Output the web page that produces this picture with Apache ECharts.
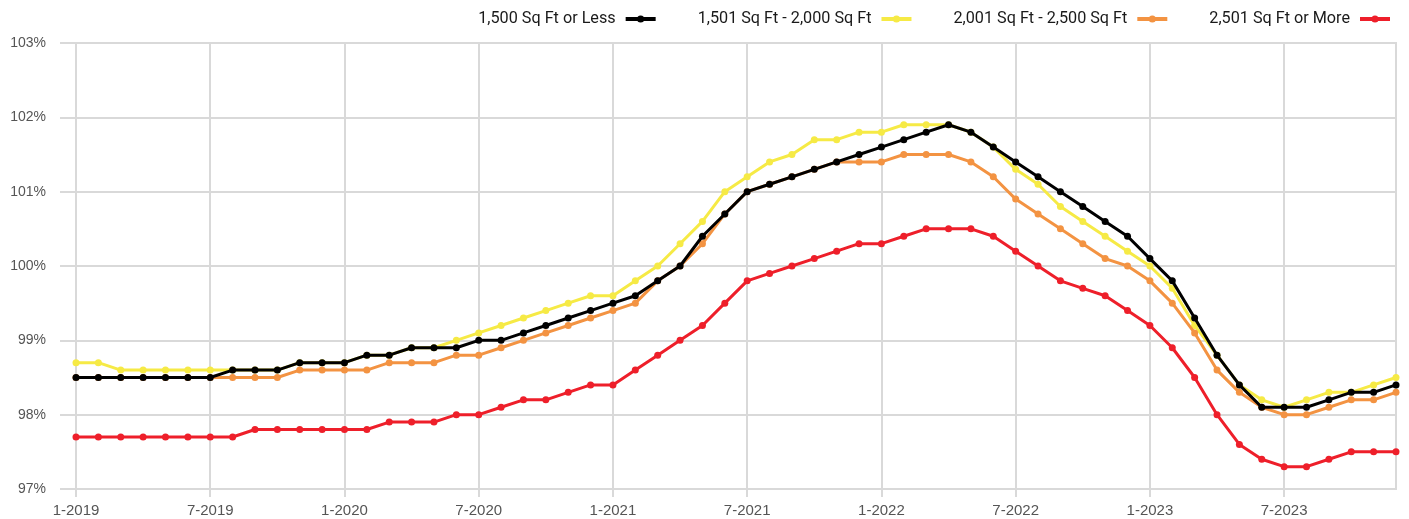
<!DOCTYPE html>
<html>
<head>
<meta charset="utf-8">
<script src="https://cdn.jsdelivr.net/npm/echarts@6/dist/echarts.min.js"></script>
<style>
html,body{margin:0;padding:0;background:#fff;}
#chart{width:1409px;height:519px;}
</style>
</head>
<body>
<div id="chart"></div>
<script>
const categories = [
 '1-2019','2-2019','3-2019','4-2019','5-2019','6-2019','7-2019','8-2019','9-2019','10-2019','11-2019','12-2019',
 '1-2020','2-2020','3-2020','4-2020','5-2020','6-2020','7-2020','8-2020','9-2020','10-2020','11-2020','12-2020',
 '1-2021','2-2021','3-2021','4-2021','5-2021','6-2021','7-2021','8-2021','9-2021','10-2021','11-2021','12-2021',
 '1-2022','2-2022','3-2022','4-2022','5-2022','6-2022','7-2022','8-2022','9-2022','10-2022','11-2022','12-2022',
 '1-2023','2-2023','3-2023','4-2023','5-2023','6-2023','7-2023','8-2023','9-2023','10-2023','11-2023','12-2023'
];
const seriesNames = ['1,500 Sq Ft or Less','1,501 Sq Ft - 2,000 Sq Ft','2,001 Sq Ft - 2,500 Sq Ft','2,501 Sq Ft or More'];
const sqft1500OrLess = [98.5,98.5,98.5,98.5,98.5,98.5,98.5,98.6,98.6,98.6,98.7,98.7,
 98.7,98.8,98.8,98.9,98.9,98.9,99.0,99.0,99.1,99.2,99.3,99.4,
 99.5,99.6,99.8,100.0,100.4,100.7,101.0,101.1,101.2,101.3,101.4,101.5,
 101.6,101.7,101.8,101.9,101.8,101.6,101.4,101.2,101.0,100.8,100.6,100.4,
 100.1,99.8,99.3,98.8,98.4,98.1,98.1,98.1,98.2,98.3,98.3,98.4];
const sqft1501To2000 = [98.7,98.7,98.6,98.6,98.6,98.6,98.6,98.6,98.6,98.6,98.7,98.7,
 98.7,98.8,98.8,98.9,98.9,99.0,99.1,99.2,99.3,99.4,99.5,99.6,
 99.6,99.8,100.0,100.3,100.6,101.0,101.2,101.4,101.5,101.7,101.7,101.8,
 101.8,101.9,101.9,101.9,101.8,101.6,101.3,101.1,100.8,100.6,100.4,100.2,
 100.0,99.7,99.2,98.8,98.4,98.2,98.1,98.2,98.3,98.3,98.4,98.5];
const sqft2001To2500 = [98.5,98.5,98.5,98.5,98.5,98.5,98.5,98.5,98.5,98.5,98.6,98.6,
 98.6,98.6,98.7,98.7,98.7,98.8,98.8,98.9,99.0,99.1,99.2,99.3,
 99.4,99.5,99.8,100.0,100.3,100.7,101.0,101.1,101.2,101.3,101.4,101.4,
 101.4,101.5,101.5,101.5,101.4,101.2,100.9,100.7,100.5,100.3,100.1,100.0,
 99.8,99.5,99.1,98.6,98.3,98.1,98.0,98.0,98.1,98.2,98.2,98.3];
const sqft2501OrMore = [97.7,97.7,97.7,97.7,97.7,97.7,97.7,97.7,97.8,97.8,97.8,97.8,
 97.8,97.8,97.9,97.9,97.9,98.0,98.0,98.1,98.2,98.2,98.3,98.4,
 98.4,98.6,98.8,99.0,99.2,99.5,99.8,99.9,100.0,100.1,100.2,100.3,
 100.3,100.4,100.5,100.5,100.5,100.4,100.2,100.0,99.8,99.7,99.6,99.4,
 99.2,98.9,98.5,98.0,97.6,97.4,97.3,97.3,97.4,97.5,97.5,97.5];
const yTicks = {min: 97, max: 103, interval: 1};

const colors = ['#000000','#f6ea45','#f39342','#ee1f2a'];
const dataSets = [sqft1500OrLess, sqft1501To2000, sqft2001To2500, sqft2501OrMore];
const zOrder = [5, 3, 4, 2];
const gridColor = '#d9d9d9';

const chart = echarts.init(document.getElementById('chart'), null, {renderer: 'canvas'});
chart.setOption({
  animation: false,
  backgroundColor: '#ffffff',
  legend: {
    data: seriesNames,
    right: 12,
    top: 6,
    align: 'right',
    itemGap: 40,
    itemWidth: 30,
    itemHeight: 9,
    lineStyle: {width: 4},
    textStyle: {fontFamily: 'Roboto, sans-serif', fontSize: 16.2, color: '#1a1a1a', padding: [0, 5, 0, 0]}
  },
  grid: {left: 76, right: 13, top: 43, bottom: 30, show: true, borderColor: gridColor, borderWidth: 2, containLabel: false},
  xAxis: {
    type: 'category',
    data: categories,
    boundaryGap: false,
    axisLine: {show: true, lineStyle: {color: gridColor, width: 2}},
    axisTick: {show: true, interval: 5, length: 8, lineStyle: {color: gridColor, width: 2}},
    axisLabel: {interval: 5, margin: 14, color: '#555', fontSize: 15, fontFamily: '"Liberation Sans", Arial, sans-serif'},
    splitLine: {show: true, interval: 5, lineStyle: {color: gridColor, width: 2}}
  },
  yAxis: {
    type: 'value',
    min: yTicks.min, max: yTicks.max, interval: yTicks.interval,
    axisLine: {show: false},
    axisTick: {show: true, length: 16, lineStyle: {color: gridColor, width: 2}},
    axisLabel: {formatter: '{value}%', margin: 30, color: '#555', fontSize: 14, fontFamily: '"Liberation Sans", Arial, sans-serif'},
    splitLine: {show: true, lineStyle: {color: gridColor, width: 2}}
  },
  series: seriesNames.map((name, i) => ({
    name: name,
    type: 'line',
    data: dataSets[i],
    z: zOrder[i],
    symbol: 'circle',
    symbolSize: 7,
    showSymbol: true,
    lineStyle: {color: colors[i], width: 3},
    itemStyle: {color: colors[i]}
  }))
});
</script>
</body>
</html>
